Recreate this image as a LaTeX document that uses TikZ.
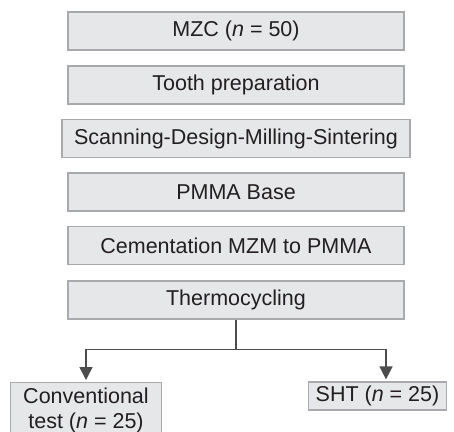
\documentclass[tikz,border=0pt]{standalone}
\usepackage{fontspec}
\setmainfont{Liberation Sans}
\usepackage{xcolor}
\usepackage{tikz}
\usetikzlibrary{positioning,calc,arrows.meta}

\definecolor{boxfill}{HTML}{E6E7E8}
\definecolor{boxline}{HTML}{A7A9AC}
\definecolor{linkgray}{HTML}{4D4D4D}
\definecolor{txtdark}{HTML}{231F20}

\begin{document}
\begin{tikzpicture}[
    x=1pt, y=-1pt,
    stage/.style={rectangle, draw=boxline, fill=boxfill, line width=1.2pt, minimum width=336pt, minimum height=38pt, inner xsep=12pt, text=txtdark, font=\fontsize{21.5}{25}\selectfont},
    link/.style={draw=linkgray, line width=1.5pt},
    arrow/.style={link, -{Triangle[width=13pt,length=13pt]}, shorten >=2pt}
]
    \clip (0,0) rectangle (454,431);
    \foreach \i/\y/\txt in {1/31/{MZC (\textit{n} = 50)}, 2/85/{Tooth preparation}, 3/138.5/{Scanning-Design-Milling-Sintering}, 4/192/{PMMA Base}, 5/245.5/{Cementation MZM to PMMA}, 6/300/{Thermocycling}} {
        \node[stage] (s\i) at (236,\y) {\txt};
    }
    \node[stage, minimum width=0pt, minimum height=0pt, inner xsep=13pt, inner ysep=5pt, align=center, anchor=north] (conv) at (86,382) {Conventional\\test (\textit{n} = 25)};
    \node[stage, minimum width=0pt, minimum height=28pt, inner xsep=7pt, inner ysep=2pt] (sht) at (377.5,396) {SHT (\textit{n} = 25)};
    \draw[link] (s6.south) -- ++(0,30) coordinate (split);
    \draw[arrow] (split) -| (conv.north);
    \draw[arrow] (split) -| ([xshift=8.5pt]sht.north);
\end{tikzpicture}
\end{document}
